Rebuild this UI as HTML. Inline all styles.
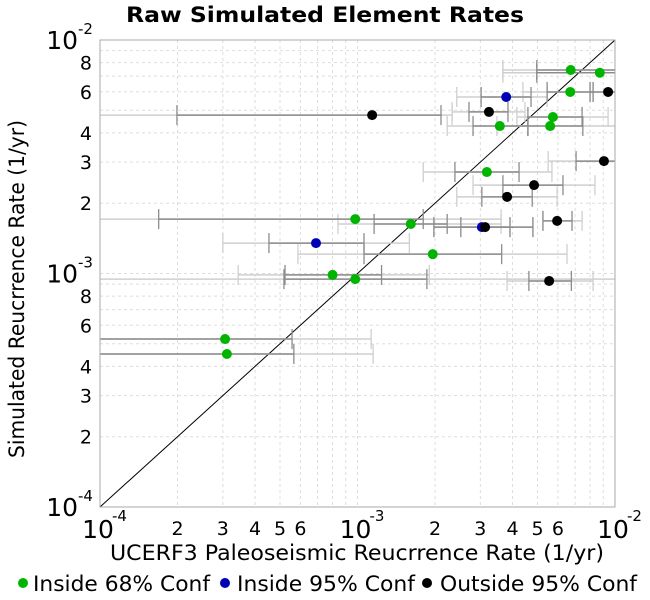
<!DOCTYPE html>
<html><head><meta charset="utf-8"><style>
body{margin:0;background:#fff;}
svg{display:block;font-family:"DejaVu Sans","Liberation Sans",sans-serif;}
</style></head><body>
<svg id="chart" width="650" height="600" viewBox="0 0 650 600">
<text x="325" y="22" text-anchor="middle" font-size="21" font-weight="bold" textLength="398" lengthAdjust="spacingAndGlyphs">Raw Simulated Element Rates</text>
<g id="grid"></g>
<g id="bars"></g>
<g id="marks"></g>
<g id="axes"></g>
<text x="110" y="560" font-size="21" textLength="494" lengthAdjust="spacingAndGlyphs">UCERF3 Paleoseismic Reucrrence Rate (1/yr)</text>
<text transform="translate(24,458) rotate(-90)" font-size="21" textLength="338" lengthAdjust="spacingAndGlyphs">Simulated Reucrrence Rate (1/yr)</text>
<g>
<g><circle cx="23" cy="583" r="5" fill="#00b400"/><text x="33" y="591" font-size="21" textLength="177" lengthAdjust="spacingAndGlyphs">Inside 68% Conf</text></g>
<g><circle cx="225" cy="583" r="5" fill="#0000b4"/><text x="237" y="591" font-size="21" textLength="178" lengthAdjust="spacingAndGlyphs">Inside 95% Conf</text></g>
<g><circle cx="427" cy="583" r="5" fill="#000"/><text x="440" y="591" font-size="21" textLength="197" lengthAdjust="spacingAndGlyphs">Outside 95% Conf</text></g>
</g>
</svg>
<script>
const obsRate = [6.73e-3,8.73e-3,3.78e-3,6.7e-3,9.4e-3,1.14e-3,3.24e-3,5.74e-3,3.57e-3,5.6e-3,9.06e-3,3.18e-3,4.85e-3,3.81e-3,9.8e-4,1.61e-3,3.04e-3,3.13e-3,5.96e-3,6.9e-4,1.96e-3,8.0e-4,9.8e-4,5.55e-3,3.06e-4,3.11e-4];
const simRate = [7.44e-3,7.24e-3,5.70e-3,5.99e-3,5.99e-3,4.77e-3,4.92e-3,4.68e-3,4.28e-3,4.28e-3,3.03e-3,2.72e-3,2.39e-3,2.13e-3,1.71e-3,1.63e-3,1.58e-3,1.58e-3,1.68e-3,1.35e-3,1.21e-3,9.86e-4,9.46e-4,9.29e-4,5.24e-4,4.52e-4];
const lo68 = [4.97e-3,4.97e-3,3.02e-3,5.45e-3,8.0e-3,1.99e-4,2.71e-3,4.59e-3,2.81e-3,4.59e-3,7.06e-3,2.39e-3,3.67e-3,3.04e-3,1.69e-4,1.16e-3,2.52e-3,1.98e-3,5.25e-3,4.53e-4,1.06e-3,5.23e-4,5.18e-4,4.63e-3,9e-5,9e-5];
const hi68 = [1.1e-2,1.1e-2,4.72e-3,8.22e-3,1.1e-2,2.11e-3,3.84e-3,7.45e-3,4.59e-3,7.5e-3,1.1e-2,4.24e-3,6.28e-3,4.77e-3,1.8e-3,2.23e-3,4.8e-3,3.91e-3,6.81e-3,1.06e-3,3.63e-3,1.24e-3,1.86e-3,6.77e-3,5.57e-4,5.66e-4];
const lo95 = [3.67e-3,3.67e-3,2.43e-3,4.39e-3,8.22e-3,9e-5,2.33e-3,4.16e-3,2.23e-3,3.48e-3,5.5e-3,1.8e-3,2.81e-3,2.43e-3,9e-5,8.4e-4,2.52e-3,1.98e-3,5.25e-3,3.0e-4,5.87e-4,3.44e-4,9e-5,3.81e-3,9e-5,9e-5];
const hi95 = [1.1e-2,1.1e-2,5.45e-3,8.0e-3,1.1e-2,2.33e-3,4.47e-3,9.4e-3,4.59e-3,1.1e-2,1.1e-2,5.69e-3,8.36e-3,5.96e-3,3.61e-3,3.61e-3,4.8e-3,3.91e-3,7.45e-3,1.59e-3,6.51e-3,1.9e-3,1.1e-2,8.22e-3,1.13e-3,1.15e-3];
const category = ["g","g","b","g","k","k","k","g","g","g","k","g","k","k","g","g","b","k","k","b","g","g","g","k","g","g"];
const minorLabelsX = [2,3,4,5,6];
const minorLabelsY = [2,3,4,6,8];
const decades = [-4,-3,-2];

const NS="http://www.w3.org/2000/svg";
const L=100,R=615,T=40,B=507;
function xs(v){return L+(Math.log10(v)+4)/2*(R-L);}
function ys(v){return B-(Math.log10(v)+4)/2*(B-T);}
function cx(p){return Math.max(L,Math.min(R,p));}
function mk(tag,attrs,parent){const e=document.createElementNS(NS,tag);for(const k in attrs)e.setAttribute(k,attrs[k]);parent.appendChild(e);return e;}
const grid=document.getElementById('grid'),axes=document.getElementById('axes'),bars=document.getElementById('bars'),marks=document.getElementById('marks');

for(let d=-4;d<-2;d++){for(let m=1;m<=10;m++){const v=m*Math.pow(10,d);
 let ln=mk('line',{x1:xs(v),x2:xs(v),y1:T,y2:B,stroke:'#ddd','stroke-dasharray':'3,3'},grid);
 
 
 let l2=mk('line',{x1:L,x2:R,y1:ys(v),y2:ys(v),stroke:'#ddd','stroke-dasharray':'3,3'},grid);
 
 
}}
let fr=mk('rect',{x:L,y:T,width:R-L,height:B-T,fill:'none',stroke:'#aaa'},axes);


let diag=mk('line',{x1:xs(1e-4),y1:ys(1e-4),x2:xs(1e-2),y2:ys(1e-2),stroke:'#000','stroke-width':1},bars);



decades.forEach(d=>{const v=Math.pow(10,d);
 let t=mk('text',{x:xs(v)-2,y:538,'text-anchor':'middle','font-size':25},axes);t.textContent='10';
 
 
 let s=mk('text',{x:xs(v)+12,y:521,'font-size':15},axes);s.textContent=String(d);
 
 
 let t2=mk('text',{x:L-22,y:ys(v)+9,'text-anchor':'end','font-size':25},axes);t2.textContent='10';
 
 
 let s2=mk('text',{x:L-22,y:ys(v)-6,'font-size':15},axes);s2.textContent=String(d);
 
 
});
for(let d=-4;d<-2;d++){
 minorLabelsX.forEach(m=>{let t=mk('text',{x:xs(m*Math.pow(10,d)),y:535,'text-anchor':'middle','font-size':19},axes);t.textContent=m;
  
  });
 minorLabelsY.forEach(m=>{let t=mk('text',{x:L-8,y:ys(m*Math.pow(10,d))+7,'text-anchor':'end','font-size':19},axes);t.textContent=m;
  
  });
}

function bar(lo,hi,y,col,name){
 const x1=cx(xs(lo)),x2=cx(xs(hi));
 let g=mk('g',{},bars);
 
 
 mk('line',{x1:x1,x2:x2,y1:y,y2:y,stroke:col,'stroke-width':1.5},g);
 if(xs(lo)>=L)mk('line',{x1:x1,x2:x1,y1:y-10,y2:y+10,stroke:col,'stroke-width':1.3},g);
 if(xs(hi)<=R)mk('line',{x1:x2,x2:x2,y1:y-10,y2:y+10,stroke:col,'stroke-width':1.3},g);
}
for(let i=0;i<obsRate.length;i++){bar(lo95[i],hi95[i],ys(simRate[i]),'#cfcfcf','error-bar-95');}
for(let i=0;i<obsRate.length;i++){bar(lo68[i],hi68[i],ys(simRate[i]),'#8c8c8c','error-bar-68');}
const colors={g:'#00b400',b:'#0000b4',k:'#000'};
for(let i=0;i<obsRate.length;i++){
 let c=mk('circle',{cx:xs(obsRate[i]),cy:ys(simRate[i]),r:5,fill:colors[category[i]]},marks);
 
 
}
</script>
</body></html>
